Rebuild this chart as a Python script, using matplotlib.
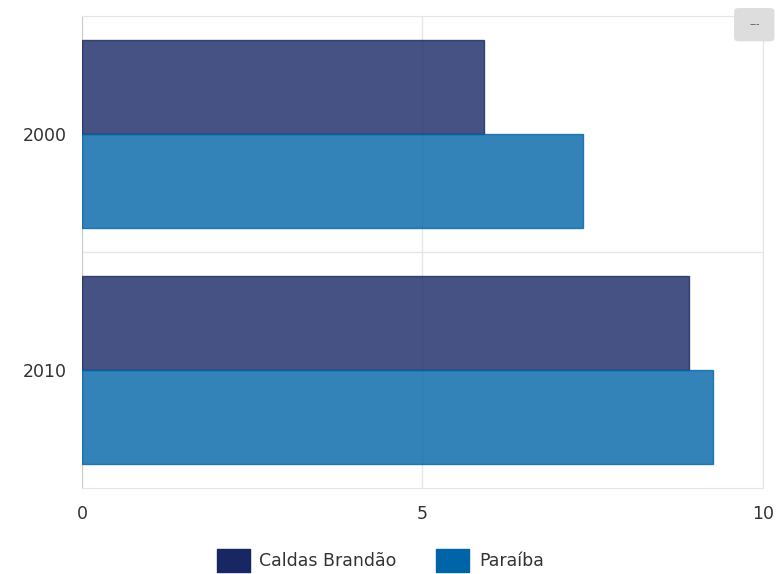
import matplotlib
matplotlib.use("Agg")
import matplotlib.pyplot as plt
import numpy as np
from matplotlib.patches import FancyBboxPatch, Patch

years = ["2000", "2010"]
series = ["Caldas Brandão", "Paraíba"]
caldas = [5.90, 8.91]
paraiba = [7.36, 9.27]
colors = ["#182764", "#0064a8"]

fig = plt.figure(figsize=(7.76, 5.74), dpi=100)
ax = fig.add_axes([0.1057, 0.1498, 0.8775, 0.8223])

pos = np.arange(len(years))
h = 0.4
for vals, off, c in [(caldas, -h / 2, colors[0]), (paraiba, h / 2, colors[1])]:
    ax.barh(pos + off, vals, height=h, color=c, alpha=0.8, edgecolor=c, linewidth=1, zorder=3)

ax.set_xlim(0, 10)
ax.set_ylim(1.5, -0.5)
ax.set_xticks([0, 5, 10])
ax.set_yticks(pos)
ax.set_yticklabels(years)
ax.set_yticks([0.5], minor=True)
ax.tick_params(axis="both", length=0, labelsize=12.5, labelcolor="#333333")
ax.tick_params(axis="y", pad=11)
ax.tick_params(axis="x", pad=12)
ax.tick_params(which="minor", length=0)
ax.grid(axis="x", color="#e6e6e6", linewidth=1, zorder=0)
ax.grid(axis="y", which="minor", color="#e6e6e6", linewidth=1, zorder=0)
for s in ["top", "right", "bottom"]:
    ax.spines[s].set_color("#e6e6e6")
ax.spines["left"].set_color("#cccccc")

handles = [Patch(facecolor=c, edgecolor=c) for c in colors]
fig.legend(handles, series, loc="center", bbox_to_anchor=(0.49, 0.024), ncol=2,
           frameon=False, fontsize=12.5, handlelength=1.9, handleheight=1.7,
           columnspacing=2.3, handletextpad=0.55, labelcolor="#333333",
           borderpad=0, borderaxespad=0)

btn = FancyBboxPatch((0.946, 0.928), 0.052, 0.058, boxstyle="round,pad=0,rounding_size=0.006",
                     transform=fig.transFigure, facecolor="#dddddd", edgecolor="none")
fig.patches.append(btn)
fig.text(0.972, 0.958, "---", ha="center", va="center", fontsize=7, color="#555577")

fig.savefig("out.png", dpi=100)
